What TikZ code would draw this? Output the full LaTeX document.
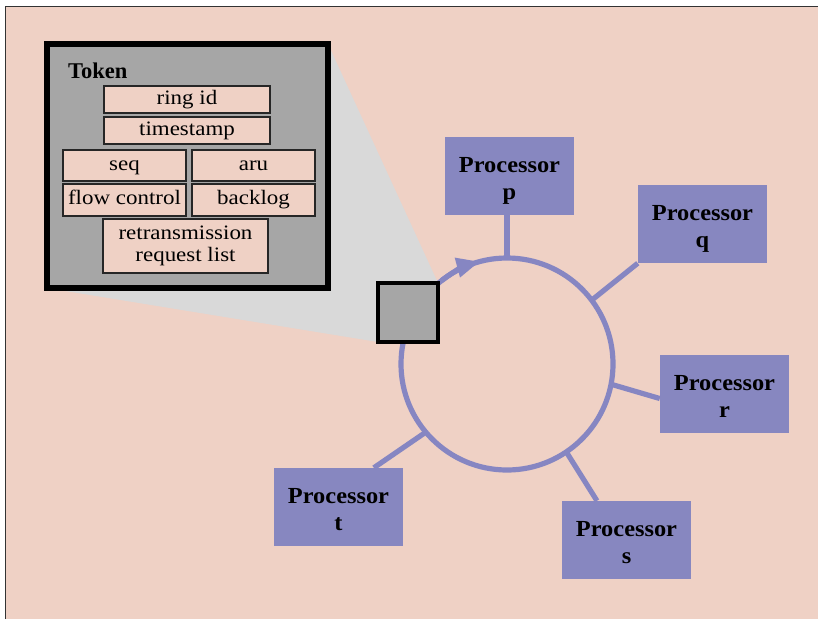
\documentclass[tikz,border=0pt]{standalone}
\usepackage{fontspec}
\setmainfont{Liberation Serif}
\newfontfamily\fieldfont[FakeStretch=1.12]{Liberation Serif}
\newfontfamily\procfont[FakeStretch=1.06]{Liberation Serif}
\usetikzlibrary{arrows.meta,backgrounds}

\definecolor{paper}{HTML}{EFD1C5}
\definecolor{procfill}{HTML}{8787C0}
\definecolor{ringcol}{HTML}{8686C2}
\definecolor{tokengray}{HTML}{A6A6A6}
\definecolor{shadowgray}{HTML}{D9D9D9}
\definecolor{framecol}{HTML}{333333}

\tikzset{
  procbox/.style={rectangle, fill=procfill, minimum width=129pt, minimum height=78pt,
    inner sep=0pt, align=center, text height=52pt, text depth=5pt,
    font=\procfont\bfseries\fontsize{23}{27}\selectfont},
  field/.style={rectangle, draw=black!85, line width=1.3pt, fill=paper, inner sep=0pt,
    align=center, font=\fieldfont\fontsize{20.5}{22}\selectfont},
  onerow/.style={text height=14pt, text depth=5pt},
  ringline/.style={draw=ringcol, line width=5.2pt},
  spoke/.style={draw=ringcol, line width=5.2pt},
}

\begin{document}
\begin{tikzpicture}[x=1pt, y=-1pt]
\useasboundingbox (0,0) rectangle (818,619);

% token frame with its fields
\node[rectangle, draw=black, line width=5.5pt, fill=tokengray, minimum width=281pt,
  minimum height=244pt, inner sep=0pt, outer sep=0pt] (token) at (187.5,166) {};
\node[anchor=base west, font=\bfseries\fontsize{22.5}{24}\selectfont, inner sep=0pt]
  (tokenlabel) at (68,78) {Token};
\node[field, onerow, minimum width=166pt, minimum height=27pt] (ringid) at (187,99.5) {ring id};
\node[field, onerow, minimum width=166pt, minimum height=27pt] (tstamp) at (187,130.5) {timestamp};
\node[field, onerow, minimum width=123pt, minimum height=31pt] (seq) at (124.5,165.5) {seq};
\node[field, onerow, minimum width=123pt, minimum height=31pt] (aru) at (253.5,165.5) {aru};
\node[field, onerow, minimum width=123pt, minimum height=32pt] (flow) at (124.5,200) {flow control};
\node[field, onerow, minimum width=123pt, minimum height=32pt] (backlog) at (253.5,200) {backlog};
\node[field, minimum width=165pt, minimum height=54pt] (retrans) at (185.5,246)
  {retransmission\\request list};

% ring and its direction
\node[circle, ringline, minimum size=212pt, inner sep=0pt, outer sep=0pt] (ring) at (507,364) {};
\draw[ringline, -{Triangle[length=23pt,width=19pt]}]
  (ring.128) arc[start angle=128, end angle=105, radius=106pt];

% the token travelling on the ring, lying over it
\node[rectangle, draw=black, line width=4.5pt, fill=tokengray, minimum width=60pt,
  minimum height=59pt, inner sep=0pt, outer sep=0pt] (tok) at (408,312.5) {};

% processors
\node[procbox] (p) at (509.5,175.5) {Processor\\p};
\node[procbox] (q) at (702.5,224) {Processor\\q};
\node[procbox] (r) at (724.5,394) {Processor\\r};
\node[procbox] (s) at (626.5,540) {Processor\\s};
\node[procbox] (t) at (338.5,507) {Processor\\t};

% spokes
\draw[spoke] (ring.90) -- (ring.90 |- p.south);
\draw[spoke] (ring.37) -- (q.south west);
\draw[spoke] (ring.-11) -- (r.184);
\draw[spoke] (ring.-56) -- (s.127);
\draw[spoke] (ring.220) -- (t.48.5);

\begin{pgfonlayer}{background}
  \fill[white] (0,0) rectangle (818,619);
  \fill[paper] (5.5,6.5) rectangle (818,619);
  \draw[framecol, line width=1.5pt] (5.5,619) -- (5.5,6.5) -- (818,6.5);
  \fill[shadowgray] (token.north east) -- (tok.north east) -- (tok.south west)
    -- (token.south west) -- cycle;
\end{pgfonlayer}
\end{tikzpicture}
\end{document}
